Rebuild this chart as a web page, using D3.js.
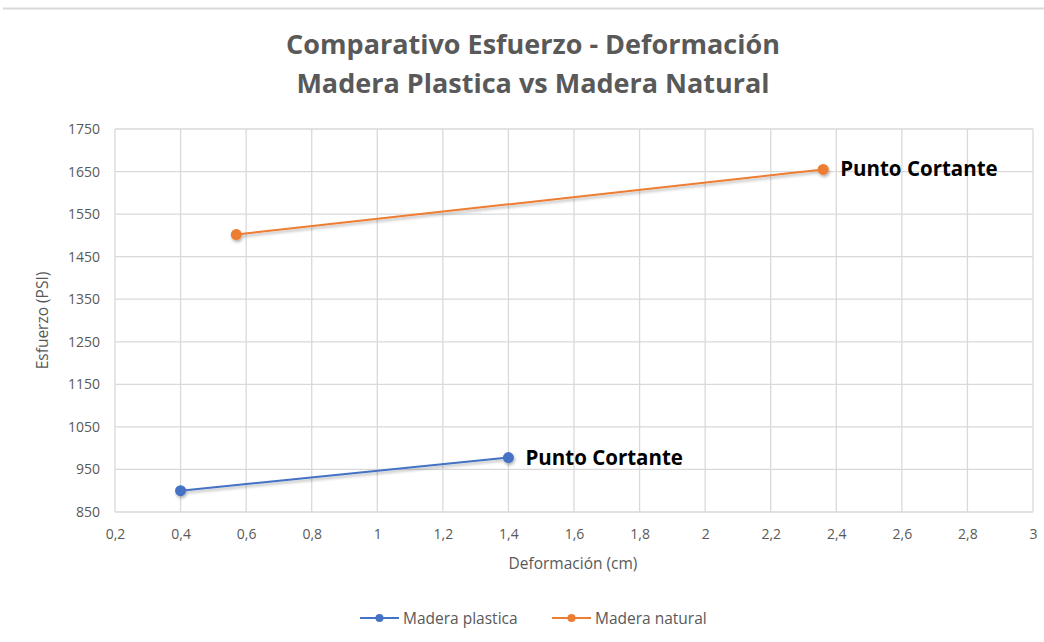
<!DOCTYPE html>
<html>
<head>
<meta charset="utf-8">
<script src="https://cdn.jsdelivr.net/npm/d3@7"></script>
<style>
  body { margin: 0; background: #fff; }
  text { font-family: "Open Sans", Lato, sans-serif; }
</style>
</head>
<body>
<div id="chart"></div>
<script>
const seriesNames = ["Madera plastica", "Madera natural"]
const seriesColors = ["#4472c4", "#ed7d31"]
const plasticaX = [0.4, 1.4]
const plasticaY = [900, 978]
const naturalX = [0.57, 2.36]
const naturalY = [1502, 1655]
const pointLabel = "Punto Cortante"
const xTicks = [0.2, 0.4, 0.6, 0.8, 1, 1.2, 1.4, 1.6, 1.8, 2, 2.2, 2.4, 2.6, 2.8, 3]
const yTicks = [850, 950, 1050, 1150, 1250, 1350, 1450, 1550, 1650, 1750]
const titleLines = ["Comparativo Esfuerzo - Deformación", "Madera Plastica vs Madera Natural"]
const xTitle = "Deformación (cm)"
const yTitle = "Esfuerzo (PSI)"

const dimensions = { width: 1044, height: 642 }
const margin = { top: 129, right: 11, bottom: 130, left: 115 }

const series = [
	{ name: seriesNames[0], color: seriesColors[0], points: plasticaX.map((x, i) => ({ x, y: plasticaY[i] })) },
	{ name: seriesNames[1], color: seriesColors[1], points: naturalX.map((x, i) => ({ x, y: naturalY[i] })) }
]

const x = d3.scaleLinear()
	.domain([0.2, 3])
	.range([margin.left, dimensions.width - margin.right])

const y = d3.scaleLinear()
	.domain([850, 1750])
	.range([dimensions.height - margin.bottom, margin.top])

const fmt = d => String(d).replace('.', ',')

const svg = d3.select('#chart')
	.append('svg')
		.attr('width', dimensions.width)
		.attr('height', dimensions.height)

const defs = svg.append('defs')
const shadow = defs.append('filter')
		.attr('id', 'shadow')
		.attr('x', '-50%').attr('y', '-50%')
		.attr('width', '200%').attr('height', '200%')
shadow.append('feDropShadow')
		.attr('dx', 1).attr('dy', 2)
		.attr('stdDeviation', 1.5)
		.attr('flood-color', '#000')
		.attr('flood-opacity', 0.3)

// spreadsheet border remnant at top
svg.append('line')
		.attr('x1', 3).attr('x2', dimensions.width)
		.attr('y1', 8.5).attr('y2', 8.5)
		.attr('stroke', '#d9d9d9')
		.attr('stroke-width', 2)

// title
svg.append('g')
	.selectAll('text')
	.data(titleLines)
	.enter().append('text')
		.attr('x', 533)
		.attr('y', (d, i) => 54 + i * 39)
		.attr('text-anchor', 'middle')
		.attr('font-size', 27)
		.attr('font-weight', 700)
		.attr('fill', '#595959')
		.text(d => d)

// grid
const grid = svg.append('g')
		.attr('stroke', '#d9d9d9')
		.attr('stroke-width', 1.3)
grid.selectAll('.vx')
	.data(xTicks)
	.enter().append('line')
		.attr('x1', d => x(d)).attr('x2', d => x(d))
		.attr('y1', y(1750)).attr('y2', y(850))
grid.selectAll('.hy')
	.data(yTicks)
	.enter().append('line')
		.attr('x1', x(0.2)).attr('x2', x(3))
		.attr('y1', d => y(d)).attr('y2', d => y(d))

// axes
const gx = svg.append('g')
		.attr('transform', `translate(0,${dimensions.height - margin.bottom})`)
		.call(d3.axisBottom(x).tickValues(xTicks).tickFormat(fmt).tickSize(0).tickPadding(17))
gx.select('.domain').remove()
gx.selectAll('text')
		.attr('font-size', 14)
		.attr('fill', '#595959')
		.style('font-family', '"Open Sans", sans-serif')

const gy = svg.append('g')
		.attr('transform', `translate(${margin.left},0)`)
		.call(d3.axisLeft(y).tickValues(yTicks).tickFormat(d => String(d)).tickSize(0).tickPadding(15))
gy.select('.domain').remove()
gy.selectAll('text')
		.attr('font-size', 14)
		.attr('fill', '#595959')
		.style('font-family', '"Open Sans", sans-serif')

svg.append('text')
		.attr('x', 573)
		.attr('y', 569)
		.attr('text-anchor', 'middle')
		.attr('font-size', 15.5)
		.attr('fill', '#595959')
		.text(xTitle)

svg.append('text')
		.attr('transform', `translate(48,${(y(850) + y(1750)) / 2}) rotate(-90)`)
		.attr('text-anchor', 'middle')
		.attr('font-size', 15.5)
		.attr('fill', '#595959')
		.text(yTitle)

// series
const line = d3.line().x(d => x(d.x)).y(d => y(d.y))
const sg = svg.append('g')
	.selectAll('g')
	.data(series)
	.enter().append('g')
		.attr('filter', 'url(#shadow)')

sg.append('path')
		.attr('d', d => line(d.points))
		.attr('fill', 'none')
		.attr('stroke', d => d.color)
		.attr('stroke-width', 2)

sg.selectAll('circle')
	.data(d => d.points.map(p => ({ ...p, color: d.color })))
	.enter().append('circle')
		.attr('cx', d => x(d.x))
		.attr('cy', d => y(d.y))
		.attr('r', 5.5)
		.attr('fill', d => d.color)

// data labels on last point
svg.append('g')
	.selectAll('text')
	.data(series)
	.enter().append('text')
		.attr('x', d => x(d.points[d.points.length - 1].x) + 17)
		.attr('y', d => y(d.points[d.points.length - 1].y) + 7)
		.attr('font-size', 20.5)
		.attr('font-weight', 700)
		.attr('fill', '#000')
		.text(pointLabel)

// legend
const legendX = [360, 552]
const legend = svg.append('g')
	.selectAll('g')
	.data(series)
	.enter().append('g')
		.attr('transform', (d, i) => `translate(${legendX[i]},618)`)
legend.append('line')
		.attr('x1', 0).attr('x2', 39)
		.attr('stroke', d => d.color)
		.attr('stroke-width', 2)
legend.append('circle')
		.attr('cx', 19.5)
		.attr('r', 4)
		.attr('fill', d => d.color)
legend.append('text')
		.attr('x', 43)
		.attr('y', 5.5)
		.attr('font-size', 15.5)
		.attr('fill', '#595959')
		.text(d => d.name)
</script>
</body>
</html>
